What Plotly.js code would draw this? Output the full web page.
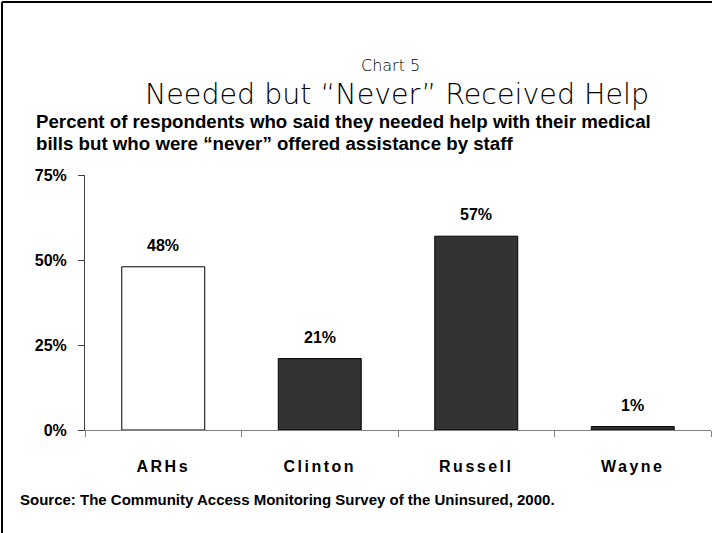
<!DOCTYPE html>
<html>
<head>
<meta charset="utf-8">
<script src="https://cdn.plot.ly/plotly-3.0.1.min.js"></script>
<style>
  html, body { margin: 0; padding: 0; background: #fff; }
  #chart { width: 712px; height: 533px; }
</style>
</head>
<body>
<div id="chart"></div>
<script>
// ---- data ----
const categories = ["ARHs", "Clinton", "Russell", "Wayne"];
const percentNeverOffered = [48, 21, 57, 1];
const barColors = ["#ffffff", "#333333", "#333333", "#333333"];
const yTickValues = [0, 25, 50, 75];
const yTickLabels = ["0%", "25%", "50%", "75%"];
const chartNumber = "Chart 5";
const chartTitle = "Needed but \u201cNever\u201d Received Help";
const subtitleLines = [
  "Percent of respondents who said they needed help with their medical",
  "bills but who were \u201cnever\u201d offered assistance by staff"
];
const sourceNote = "Source: The Community Access Monitoring Survey of the Uninsured, 2000.";

// ---- geometry helpers (pixel -> paper) ----
const W = 712, H = 533;
const M = { l: 85, r: 1, t: 175, b: 103 };
const PW = W - M.l - M.r, PH = H - M.t - M.b;
const px = x => (x - M.l) / PW;
const py = y => (H - M.b - y) / PH;

const boldFont = "Arial, 'Liberation Sans', sans-serif";
const lightFont = "'DejaVu Sans', 'Open Sans', sans-serif";

const trace = {
  type: "bar",
  x: categories,
  y: percentNeverOffered,
  marker: { color: barColors, line: { color: "#000000", width: 1 } },
  hoverinfo: "skip",
  showlegend: false
};

const annotations = [];
// value labels
categories.forEach((c, i) => {
  annotations.push({
    x: c, y: percentNeverOffered[i], xref: "x", yref: "y",
    text: "<b>" + percentNeverOffered[i] + "%</b>",
    showarrow: false, yanchor: "bottom", yshift: 11,
    font: { family: boldFont, size: 16, color: "#000" }
  });
});
annotations.push({
  x: px(390), y: py(66), xref: "paper", yref: "paper",
  text: chartNumber, showarrow: false, xanchor: "center", yanchor: "middle",
  font: { family: lightFont, size: 16, color: "#000", weight: 200 }
});
annotations.push({
  x: px(397), y: py(94), xref: "paper", yref: "paper",
  text: chartTitle, showarrow: false, xanchor: "center", yanchor: "middle",
  font: { family: lightFont, size: 28.5, color: "#000", weight: 200 }
});
subtitleLines.forEach((line, i) => {
  annotations.push({
    x: px(34), y: py(121 + 22 * i), xref: "paper", yref: "paper",
    text: "<b>" + line + "</b>", showarrow: false, xanchor: "left", yanchor: "middle",
    font: { family: boldFont, size: 18.7, color: "#000" }
  });
});
annotations.push({
  x: px(18), y: py(499), xref: "paper", yref: "paper",
  text: "<b>" + sourceNote + "</b>", showarrow: false, xanchor: "left", yanchor: "middle",
  font: { family: boldFont, size: 15, color: "#000" }
});

const layout = {
  width: W, height: H,
  margin: M,
  paper_bgcolor: "#ffffff",
  plot_bgcolor: "#ffffff",
  bargap: 0.47,
  xaxis: {
    type: "category",
    showline: true, linecolor: "#808080", linewidth: 1,
    ticks: "outside", tickson: "boundaries", ticklen: 6, tickcolor: "#808080",
    showgrid: false, zeroline: false,
    tickfont: { family: boldFont, size: 16, color: "#000", weight: "bold" },
    ticklabelstandoff: 22,
    fixedrange: true
  },
  yaxis: {
    range: [0, 75],
    tickvals: yTickValues, ticktext: yTickLabels,
    showline: true, linecolor: "#404040", linewidth: 1,
    ticks: "outside", ticklen: 6, tickcolor: "#404040",
    showgrid: false, zeroline: false,
    tickfont: { family: boldFont, size: 16, color: "#000", weight: "bold" },
    ticklabelstandoff: 8,
    fixedrange: true
  },
  annotations: annotations,
  shapes: [
    { type: "line", xref: "paper", yref: "paper", x0: px(2), x1: px(712), y0: py(2), y1: py(2),
      line: { color: "#000", width: 2 } },
    { type: "line", xref: "paper", yref: "paper", x0: px(2), x1: px(2), y0: py(2), y1: py(533),
      line: { color: "#000", width: 2 } }
  ]
};

Plotly.newPlot("chart", [trace], layout, { displayModeBar: false, staticPlot: true }).then(gd => {
  gd.querySelectorAll(".xtick text").forEach(t => { t.style.letterSpacing = "2.5px"; });
});
</script>
</body>
</html>
